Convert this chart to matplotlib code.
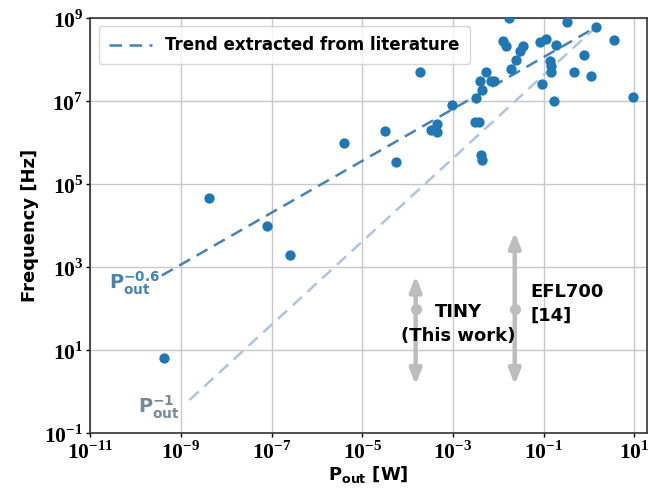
import numpy as np
import matplotlib
matplotlib.use("Agg")
import matplotlib.pyplot as plt
from matplotlib.ticker import FixedLocator, FuncFormatter, NullLocator

plt.rcParams["mathtext.fontset"] = "custom"
plt.rcParams["mathtext.rm"] = "Liberation Serif"
plt.rcParams["mathtext.bf"] = "Liberation Serif:bold"
plt.rcParams["mathtext.sf"] = "DejaVu Sans:bold"
plt.rcParams["font.family"] = ["DejaVu Sans"]
plt.rcParams["font.weight"] = "bold"

# literature designs: output power [W] and frequency [Hz]
p_out = [4.2e-10, 4.2e-9, 7.9e-8, 2.5e-7, 4.0e-6, 3.2e-5, 5.4e-5, 1.9e-4,
         3.2e-4, 4.4e-4, 4.4e-4, 9.5e-4, 3.0e-3, 3.8e-3, 3.2e-3, 4.4e-3,
         4.2e-3, 4.4e-3, 4.0e-3, 5.4e-3, 6.9e-3, 8.1e-3, 1.26e-2, 1.5e-2,
         1.7e-2, 1.9e-2, 2.5e-2, 3.0e-2, 3.5e-2, 8.3e-2, 9.1e-2, 0.112,
         0.135, 0.145, 0.145, 0.166, 0.19, 0.32, 0.46, 0.79, 1.1, 1.4,
         3.6, 9.5]
freq = [6.3, 4.6e4, 9.8e3, 2.0e3, 1.0e6, 1.9e6, 3.5e5, 5.1e7,
        2.0e6, 2.8e6, 1.8e6, 8.1e6, 3.1e6, 3.1e6, 1.2e7, 1.9e7,
        5.1e5, 3.8e5, 3.1e7, 5.1e7, 3.1e7, 3.1e7, 2.8e8, 2.1e8,
        1.0e9, 5.9e7, 1.0e8, 1.6e8, 2.1e8, 2.6e8, 2.6e7, 3.2e8,
        9.3e7, 7.1e7, 4.9e7, 1.0e7, 2.3e8, 7.9e8, 5.1e7, 1.3e8, 4.1e7, 6.0e8,
        3.0e8, 1.26e7]

# trend lines (end points)
trend_p = [3.8e-10, 1.4]
trend_f = [630, 6.0e8]
ideal_p = [1.55e-9, 1.4]
ideal_f = [0.63, 6.0e8]

# frequency ranges of this work and EFL700
tiny_p = 1.5e-4
efl_p = 2.3e-2
tiny_range = [1.46, 620]
efl_range = [1.46, 7000]
center_f = 100

x_exps = [-11, -9, -7, -5, -3, -1, 1]
y_exps = [-1, 1, 3, 5, 7, 9]

fig, ax = plt.subplots(figsize=(6.49, 4.9), dpi=100)
fig.subplots_adjust(left=0.139, right=0.997, bottom=0.116, top=0.963)

ax.set_xscale("log")
ax.set_yscale("log")
ax.set_xlim(1e-11, 19)
ax.set_ylim(1e-1, 1e9)

ax.grid(True, color="#c8c8c8", lw=1.0, zorder=0)
ax.set_axisbelow(True)

ax.plot(trend_p, trend_f, ls=(0, (5, 3)), color="#4682b4", lw=1.8,
        label="Trend extracted from literature", zorder=2)
ax.plot(ideal_p, ideal_f, ls=(0, (5, 3)), color="#b0c4de", lw=1.8, zorder=2)
ax.scatter(p_out, freq, s=55, color="#1f77b4", zorder=3, linewidths=0)

gray = "#bdbdbd"
for xp, rng in [(tiny_p, tiny_range), (efl_p, efl_range)]:
    ax.annotate("", xy=(xp, rng[1]), xytext=(xp, rng[0]),
                arrowprops=dict(arrowstyle="<|-|>,head_width=0.35,head_length=0.9",
                                lw=3.2, color=gray, shrinkA=0, shrinkB=0),
                zorder=2)
    ax.plot([xp], [center_f], "o", color=gray, ms=7, zorder=2)

ax.text(1.3e-3, 43, "TINY\n(This work)", ha="center", va="center",
        fontsize=13, fontweight="bold", linespacing=1.4)
ax.text(5.0e-2, 132, "EFL700\n[14]", ha="left", va="center",
        fontsize=13, fontweight="bold", linespacing=1.4)

ax.text(3.5e-10, 400, r"$\mathsf{P_{out}^{-0.6}}$", ha="right", va="center",
        fontsize=14, color="#4682b4")
ax.text(9.5e-10, 0.41, r"$\mathsf{P_{out}^{-1}}$", ha="right", va="center",
        fontsize=14, color="#778899")

ax.xaxis.set_major_locator(FixedLocator([10.0 ** e for e in x_exps]))
ax.yaxis.set_major_locator(FixedLocator([10.0 ** e for e in y_exps]))
ax.xaxis.set_minor_locator(NullLocator())
ax.yaxis.set_minor_locator(NullLocator())
fmt = FuncFormatter(lambda v, pos: r"$\mathbf{10}^{%d}$" % round(np.log10(v)))
ax.xaxis.set_major_formatter(fmt)
ax.yaxis.set_major_formatter(fmt)
ax.tick_params(labelsize=15.5, length=3, width=1, pad=2)

for sp in ax.spines.values():
    sp.set_color("#333333")
    sp.set_linewidth(1.2)

ax.set_xlabel(r"$\mathsf{P_{out}}$ [W]", fontsize=13, fontweight="bold",
              labelpad=1)
ax.set_ylabel("Frequency [Hz]", fontsize=13, fontweight="bold", labelpad=4)

leg = ax.legend(loc="upper left", fontsize=12, frameon=True, handlelength=2.6,
                borderpad=0.6)
for t in leg.get_texts():
    t.set_fontweight("bold")

fig.savefig("out.png", dpi=100)
